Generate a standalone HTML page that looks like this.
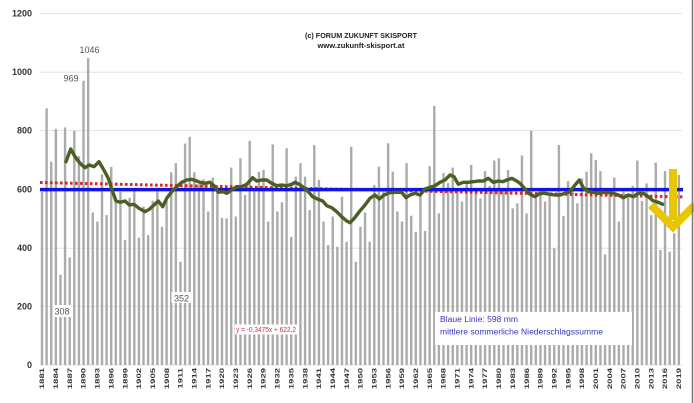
<!DOCTYPE html>
<html><head><meta charset="utf-8"><style>
html,body{margin:0;padding:0;background:#fff;}
svg{display:block;font-family:"Liberation Sans",sans-serif;}
</style></head><body>
<svg width="694" height="403" viewBox="0 0 694 403" xmlns="http://www.w3.org/2000/svg">
<rect x="0" y="0" width="694" height="403" fill="#fff"/>
<!-- gridlines -->
<g stroke="#e3e3e3" stroke-width="1">
<line x1="40" y1="13.5" x2="682" y2="13.5"/>
<line x1="40" y1="72.2" x2="682" y2="72.2"/>
<line x1="40" y1="130.5" x2="682" y2="130.5"/>
<line x1="40" y1="189.5" x2="682" y2="189.5"/>
<line x1="40" y1="248.2" x2="682" y2="248.2"/>
<line x1="40" y1="306.5" x2="682" y2="306.5"/>
<line x1="40" y1="365" x2="682" y2="365"/>
</g>
<!-- y labels -->
<g font-size="9" font-weight="bold" fill="#333" text-anchor="end">
<text x="32" y="16.5">1200</text>
<text x="32" y="75.2">1000</text>
<text x="32" y="133.5">800</text>
<text x="32" y="192.5">600</text>
<text x="32" y="251.2">400</text>
<text x="32" y="309.5">200</text>
<text x="32" y="368">0</text>
</g>
<!-- bars -->
<g transform="translate(42,365) scale(4.615,-0.293333)" fill="#ababab">
<rect x="-0.26" y="0" width="0.52" height="590"/>
<rect x="0.74" y="0" width="0.52" height="875"/>
<rect x="1.74" y="0" width="0.52" height="693"/>
<rect x="2.74" y="0" width="0.52" height="805"/>
<rect x="3.74" y="0" width="0.52" height="308"/>
<rect x="4.74" y="0" width="0.52" height="810"/>
<rect x="5.74" y="0" width="0.52" height="367"/>
<rect x="6.74" y="0" width="0.52" height="798"/>
<rect x="7.74" y="0" width="0.52" height="712"/>
<rect x="8.74" y="0" width="0.52" height="969"/>
<rect x="9.74" y="0" width="0.52" height="1046"/>
<rect x="10.74" y="0" width="0.52" height="520"/>
<rect x="11.74" y="0" width="0.52" height="489"/>
<rect x="12.74" y="0" width="0.52" height="650"/>
<rect x="13.74" y="0" width="0.52" height="511"/>
<rect x="14.74" y="0" width="0.52" height="675"/>
<rect x="15.74" y="0" width="0.52" height="560"/>
<rect x="16.74" y="0" width="0.52" height="590"/>
<rect x="17.74" y="0" width="0.52" height="426"/>
<rect x="18.74" y="0" width="0.52" height="570"/>
<rect x="19.74" y="0" width="0.52" height="600"/>
<rect x="20.74" y="0" width="0.52" height="434"/>
<rect x="21.74" y="0" width="0.52" height="540"/>
<rect x="22.74" y="0" width="0.52" height="443"/>
<rect x="23.74" y="0" width="0.52" height="560"/>
<rect x="24.74" y="0" width="0.52" height="600"/>
<rect x="25.74" y="0" width="0.52" height="471"/>
<rect x="26.74" y="0" width="0.52" height="560"/>
<rect x="27.74" y="0" width="0.52" height="657"/>
<rect x="28.74" y="0" width="0.52" height="688"/>
<rect x="29.74" y="0" width="0.52" height="352"/>
<rect x="30.74" y="0" width="0.52" height="755"/>
<rect x="31.74" y="0" width="0.52" height="778"/>
<rect x="32.74" y="0" width="0.52" height="657"/>
<rect x="33.74" y="0" width="0.52" height="616"/>
<rect x="34.74" y="0" width="0.52" height="633"/>
<rect x="35.74" y="0" width="0.52" height="523"/>
<rect x="36.74" y="0" width="0.52" height="639"/>
<rect x="37.74" y="0" width="0.52" height="610"/>
<rect x="38.74" y="0" width="0.52" height="502"/>
<rect x="39.74" y="0" width="0.52" height="500"/>
<rect x="40.74" y="0" width="0.52" height="673"/>
<rect x="41.74" y="0" width="0.52" height="506"/>
<rect x="42.74" y="0" width="0.52" height="705"/>
<rect x="43.74" y="0" width="0.52" height="580"/>
<rect x="44.74" y="0" width="0.52" height="764"/>
<rect x="45.74" y="0" width="0.52" height="600"/>
<rect x="46.74" y="0" width="0.52" height="659"/>
<rect x="47.74" y="0" width="0.52" height="665"/>
<rect x="48.74" y="0" width="0.52" height="489"/>
<rect x="49.74" y="0" width="0.52" height="752"/>
<rect x="50.74" y="0" width="0.52" height="523"/>
<rect x="51.74" y="0" width="0.52" height="555"/>
<rect x="52.74" y="0" width="0.52" height="739"/>
<rect x="53.74" y="0" width="0.52" height="437"/>
<rect x="54.74" y="0" width="0.52" height="642"/>
<rect x="55.74" y="0" width="0.52" height="688"/>
<rect x="56.74" y="0" width="0.52" height="642"/>
<rect x="57.74" y="0" width="0.52" height="528"/>
<rect x="58.74" y="0" width="0.52" height="750"/>
<rect x="59.74" y="0" width="0.52" height="631"/>
<rect x="60.74" y="0" width="0.52" height="489"/>
<rect x="61.74" y="0" width="0.52" height="409"/>
<rect x="62.74" y="0" width="0.52" height="506"/>
<rect x="63.74" y="0" width="0.52" height="403"/>
<rect x="64.74" y="0" width="0.52" height="574"/>
<rect x="65.74" y="0" width="0.52" height="420"/>
<rect x="66.74" y="0" width="0.52" height="744"/>
<rect x="67.74" y="0" width="0.52" height="352"/>
<rect x="68.74" y="0" width="0.52" height="471"/>
<rect x="69.74" y="0" width="0.52" height="520"/>
<rect x="70.74" y="0" width="0.52" height="420"/>
<rect x="71.74" y="0" width="0.52" height="614"/>
<rect x="72.74" y="0" width="0.52" height="676"/>
<rect x="73.74" y="0" width="0.52" height="600"/>
<rect x="74.74" y="0" width="0.52" height="756"/>
<rect x="75.74" y="0" width="0.52" height="659"/>
<rect x="76.74" y="0" width="0.52" height="523"/>
<rect x="77.74" y="0" width="0.52" height="489"/>
<rect x="78.74" y="0" width="0.52" height="688"/>
<rect x="79.74" y="0" width="0.52" height="509"/>
<rect x="80.74" y="0" width="0.52" height="454"/>
<rect x="81.74" y="0" width="0.52" height="580"/>
<rect x="82.74" y="0" width="0.52" height="457"/>
<rect x="83.74" y="0" width="0.52" height="678"/>
<rect x="84.74" y="0" width="0.52" height="883"/>
<rect x="85.74" y="0" width="0.52" height="517"/>
<rect x="86.74" y="0" width="0.52" height="654"/>
<rect x="87.74" y="0" width="0.52" height="620"/>
<rect x="88.74" y="0" width="0.52" height="673"/>
<rect x="89.74" y="0" width="0.52" height="600"/>
<rect x="90.74" y="0" width="0.52" height="557"/>
<rect x="91.74" y="0" width="0.52" height="620"/>
<rect x="92.74" y="0" width="0.52" height="682"/>
<rect x="93.74" y="0" width="0.52" height="600"/>
<rect x="94.74" y="0" width="0.52" height="568"/>
<rect x="95.74" y="0" width="0.52" height="661"/>
<rect x="96.74" y="0" width="0.52" height="610"/>
<rect x="97.74" y="0" width="0.52" height="697"/>
<rect x="98.74" y="0" width="0.52" height="705"/>
<rect x="99.74" y="0" width="0.52" height="600"/>
<rect x="100.74" y="0" width="0.52" height="665"/>
<rect x="101.74" y="0" width="0.52" height="534"/>
<rect x="102.74" y="0" width="0.52" height="551"/>
<rect x="103.74" y="0" width="0.52" height="714"/>
<rect x="104.74" y="0" width="0.52" height="517"/>
<rect x="105.74" y="0" width="0.52" height="798"/>
<rect x="106.74" y="0" width="0.52" height="569"/>
<rect x="107.74" y="0" width="0.52" height="590"/>
<rect x="108.74" y="0" width="0.52" height="557"/>
<rect x="109.74" y="0" width="0.52" height="580"/>
<rect x="110.74" y="0" width="0.52" height="398"/>
<rect x="111.74" y="0" width="0.52" height="750"/>
<rect x="112.74" y="0" width="0.52" height="508"/>
<rect x="113.74" y="0" width="0.52" height="627"/>
<rect x="114.74" y="0" width="0.52" height="600"/>
<rect x="115.74" y="0" width="0.52" height="551"/>
<rect x="116.74" y="0" width="0.52" height="636"/>
<rect x="117.74" y="0" width="0.52" height="659"/>
<rect x="118.74" y="0" width="0.52" height="722"/>
<rect x="119.74" y="0" width="0.52" height="699"/>
<rect x="120.74" y="0" width="0.52" height="661"/>
<rect x="121.74" y="0" width="0.52" height="377"/>
<rect x="122.74" y="0" width="0.52" height="580"/>
<rect x="123.74" y="0" width="0.52" height="639"/>
<rect x="124.74" y="0" width="0.52" height="489"/>
<rect x="125.74" y="0" width="0.52" height="591"/>
<rect x="126.74" y="0" width="0.52" height="580"/>
<rect x="127.74" y="0" width="0.52" height="610"/>
<rect x="128.74" y="0" width="0.52" height="697"/>
<rect x="129.74" y="0" width="0.52" height="559"/>
<rect x="130.74" y="0" width="0.52" height="619"/>
<rect x="131.74" y="0" width="0.52" height="511"/>
<rect x="132.74" y="0" width="0.52" height="690"/>
<rect x="133.74" y="0" width="0.52" height="392"/>
<rect x="134.74" y="0" width="0.52" height="661"/>
<rect x="135.74" y="0" width="0.52" height="386"/>
<rect x="136.74" y="0" width="0.52" height="449"/>
<rect x="137.74" y="0" width="0.52" height="648"/>
</g>
<!-- trend (red dotted) -->
<line x1="40" y1="182.5" x2="683" y2="196.9" stroke="#e02424" stroke-width="3" stroke-dasharray="2.6 2.4"/>
<!-- mean (blue) -->
<line x1="40" y1="189.6" x2="683" y2="189.6" stroke="#1414e0" stroke-width="3.5"/>
<!-- moving average (green) -->
<polyline fill="none" stroke="#4b5f22" stroke-width="3.4" stroke-linejoin="round" stroke-linecap="round" points="66,161.7 70.7,149 75,156.7 80,163.3 85,167.7 89.3,165 94,166.7 99,161.7 103.3,169 108.3,178.3 112.7,191.7 116,201 120,202.3 125,201 129.3,205 134,204.3 139,208.3 145,211.7 149.3,209.3 154,205 158.3,201 162.7,206.7 166.7,198.3 171.7,191.7 176.7,186.7 181.7,182.3 186.7,180 191.7,179.3 196.7,181 200,182.3 205,183.3 210,182.3 215,186.7 218.3,192.3 223.3,191.7 226.7,193.3 231.7,190 236.7,186.7 241.7,186.7 246.7,184.3 252.7,177.7 256.7,181 261.7,180 266.7,180 271.7,183.3 276.7,185.7 281.7,185 286.7,185.7 291.7,184.3 295,182.3 299.3,184.3 304,187.7 308.3,191.7 312.7,196.7 317.3,199 322.7,201 326.7,205.7 331.7,207.7 336.7,211.7 341.7,216.7 346.7,221 350,222.7 354.3,218.3 359.3,211.7 365,205 370,198.3 375,195 379.3,199 384,195 390,192.7 396.7,192.3 401.7,192.3 406,197.7 410,195 415,193.3 420,195 425,189 430,187.3 435,185.7 440,182.3 445,180 450,175 454,176.7 458.3,184.3 463.3,182.3 468.3,182.3 473.3,181.7 478.3,181 483.3,181 488.3,178.3 493.3,182.3 498.3,181 502.7,181.7 506.7,180 511.7,178.3 516.7,181 520,183.3 525,189 530,194.3 535,196.7 540,193.3 545,193.3 550,194.3 555,195 560,195 565,193.3 570,191.7 575,185 579.3,180 583.3,187.7 588.3,191.7 593.3,192.3 598.3,193.3 603.3,192.3 608.3,192.7 613.3,193.3 618.3,195 623.3,197.7 628.3,195 633.3,196.7 638.3,193.3 643.3,193.3 648.3,196.7 653.3,201 658.3,202.3 662.7,204.3"/>
<!-- value labels -->
<g font-size="9" fill="#555">
<text x="63.5" y="81.5">969</text>
<text x="79.5" y="53">1046</text>
</g>
<rect x="53" y="305" width="18" height="12" fill="#fff"/>
<text x="62" y="314.5" font-size="9" fill="#555" text-anchor="middle">308</text>
<rect x="171.5" y="292" width="20" height="11" fill="#fff"/>
<text x="181.5" y="301.5" font-size="9" fill="#555" text-anchor="middle">352</text>
<!-- equation box -->
<rect x="235" y="324.5" width="62" height="10" fill="#fff"/>
<text x="236" y="332" font-size="7" fill="#d0303a" textLength="60" lengthAdjust="spacingAndGlyphs">y = -0,3475x + 622,2</text>
<!-- blue legend box -->
<rect x="435" y="312" width="197" height="33" fill="#fff"/>
<g font-size="8" fill="#3535c0">
<text x="440" y="322" textLength="78" lengthAdjust="spacingAndGlyphs">Blaue Linie: 598 mm</text>
<text x="440" y="334.5" textLength="163" lengthAdjust="spacingAndGlyphs">mittlere sommerliche Niederschlagssumme</text>
</g>
<!-- title -->
<g font-size="7" font-weight="bold" fill="#222" text-anchor="middle">
<text x="361" y="38" textLength="112" lengthAdjust="spacingAndGlyphs">(c) FORUM ZUKUNFT SKISPORT</text>
<text x="361" y="48" textLength="87" lengthAdjust="spacingAndGlyphs">www.zukunft-skisport.at</text>
</g>
<!-- yellow arrow -->
<g fill="none" stroke="#e8c600">
<line x1="673" y1="169" x2="673" y2="220" stroke-width="8"/>
<polyline points="651,205 673,227 695,205" stroke-width="8" stroke-linejoin="miter"/>
</g>
<!-- right border -->
<line x1="692.5" y1="0" x2="692.5" y2="403" stroke="#777" stroke-width="1.5"/>
<!-- x labels -->
<g font-size="9.5" font-weight="bold" fill="#333" text-anchor="end">
<text transform="translate(44.2,368) scale(0.65,1) rotate(-90)">1881</text>
<text transform="translate(58.0,368) scale(0.65,1) rotate(-90)">1884</text>
<text transform="translate(71.9,368) scale(0.65,1) rotate(-90)">1887</text>
<text transform="translate(85.7,368) scale(0.65,1) rotate(-90)">1890</text>
<text transform="translate(99.6,368) scale(0.65,1) rotate(-90)">1893</text>
<text transform="translate(113.4,368) scale(0.65,1) rotate(-90)">1896</text>
<text transform="translate(127.3,368) scale(0.65,1) rotate(-90)">1899</text>
<text transform="translate(141.1,368) scale(0.65,1) rotate(-90)">1902</text>
<text transform="translate(155.0,368) scale(0.65,1) rotate(-90)">1905</text>
<text transform="translate(168.8,368) scale(0.65,1) rotate(-90)">1908</text>
<text transform="translate(182.7,368) scale(0.65,1) rotate(-90)">1911</text>
<text transform="translate(196.5,368) scale(0.65,1) rotate(-90)">1914</text>
<text transform="translate(210.3,368) scale(0.65,1) rotate(-90)">1917</text>
<text transform="translate(224.2,368) scale(0.65,1) rotate(-90)">1920</text>
<text transform="translate(238.0,368) scale(0.65,1) rotate(-90)">1923</text>
<text transform="translate(251.9,368) scale(0.65,1) rotate(-90)">1926</text>
<text transform="translate(265.7,368) scale(0.65,1) rotate(-90)">1929</text>
<text transform="translate(279.6,368) scale(0.65,1) rotate(-90)">1932</text>
<text transform="translate(293.4,368) scale(0.65,1) rotate(-90)">1935</text>
<text transform="translate(307.3,368) scale(0.65,1) rotate(-90)">1938</text>
<text transform="translate(321.1,368) scale(0.65,1) rotate(-90)">1941</text>
<text transform="translate(334.9,368) scale(0.65,1) rotate(-90)">1944</text>
<text transform="translate(348.8,368) scale(0.65,1) rotate(-90)">1947</text>
<text transform="translate(362.6,368) scale(0.65,1) rotate(-90)">1950</text>
<text transform="translate(376.5,368) scale(0.65,1) rotate(-90)">1953</text>
<text transform="translate(390.3,368) scale(0.65,1) rotate(-90)">1956</text>
<text transform="translate(404.2,368) scale(0.65,1) rotate(-90)">1959</text>
<text transform="translate(418.0,368) scale(0.65,1) rotate(-90)">1962</text>
<text transform="translate(431.9,368) scale(0.65,1) rotate(-90)">1965</text>
<text transform="translate(445.7,368) scale(0.65,1) rotate(-90)">1968</text>
<text transform="translate(459.6,368) scale(0.65,1) rotate(-90)">1971</text>
<text transform="translate(473.4,368) scale(0.65,1) rotate(-90)">1974</text>
<text transform="translate(487.2,368) scale(0.65,1) rotate(-90)">1977</text>
<text transform="translate(501.1,368) scale(0.65,1) rotate(-90)">1980</text>
<text transform="translate(514.9,368) scale(0.65,1) rotate(-90)">1983</text>
<text transform="translate(528.8,368) scale(0.65,1) rotate(-90)">1986</text>
<text transform="translate(542.6,368) scale(0.65,1) rotate(-90)">1989</text>
<text transform="translate(556.5,368) scale(0.65,1) rotate(-90)">1992</text>
<text transform="translate(570.3,368) scale(0.65,1) rotate(-90)">1995</text>
<text transform="translate(584.2,368) scale(0.65,1) rotate(-90)">1998</text>
<text transform="translate(598.0,368) scale(0.65,1) rotate(-90)">2001</text>
<text transform="translate(611.8,368) scale(0.65,1) rotate(-90)">2004</text>
<text transform="translate(625.7,368) scale(0.65,1) rotate(-90)">2007</text>
<text transform="translate(639.5,368) scale(0.65,1) rotate(-90)">2010</text>
<text transform="translate(653.4,368) scale(0.65,1) rotate(-90)">2013</text>
<text transform="translate(667.2,368) scale(0.65,1) rotate(-90)">2016</text>
<text transform="translate(681.1,368) scale(0.65,1) rotate(-90)">2019</text>
</g>
</svg>
</body></html>
